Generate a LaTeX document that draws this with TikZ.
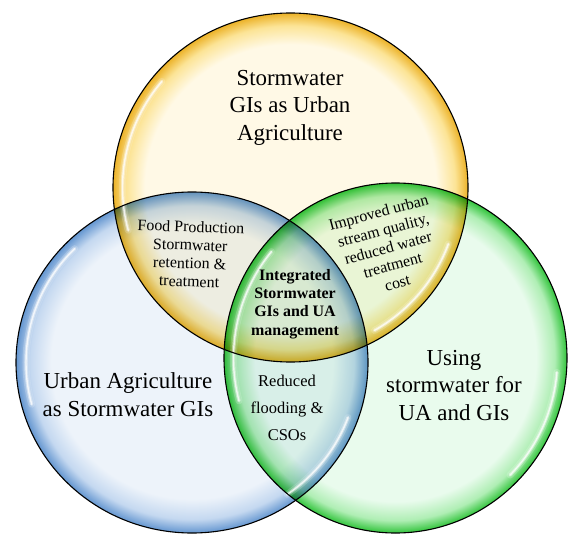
\documentclass[tikz,border=0pt]{standalone}
\usepackage{fontspec}
\setmainfont{Liberation Serif}
\usetikzlibrary{calc}
\definecolor{ypale}{RGB}{255,249,230}
\definecolor{ymid}{RGB}{252,228,150}
\definecolor{yrim}{RGB}{236,178,40}
\definecolor{bpale}{RGB}{237,243,250}
\definecolor{bmid}{RGB}{196,216,240}
\definecolor{brim}{RGB}{100,150,208}
\definecolor{gpale}{RGB}{233,251,237}
\definecolor{gmid}{RGB}{175,238,180}
\definecolor{grim}{RGB}{50,196,60}
\pgfdeclareradialshading{yball}{\pgfpoint{0bp}{0bp}}{color(0bp)=(ypale); color(20.5bp)=(ypale); color(23.2bp)=(ymid); color(25bp)=(yrim); color(50bp)=(yrim)}
\pgfdeclareradialshading{bball}{\pgfpoint{0bp}{0bp}}{color(0bp)=(bpale); color(20bp)=(bpale); color(23bp)=(bmid); color(25bp)=(brim); color(50bp)=(brim)}
\pgfdeclareradialshading{gball}{\pgfpoint{0bp}{0bp}}{color(0bp)=(gpale); color(20.5bp)=(gpale); color(23.2bp)=(gmid); color(25bp)=(grim); color(50bp)=(grim)}
\newcommand\glint[5]{%
  \draw[white, line width=7bp, opacity=0.18, line cap=round] ([shift={(#4:#2 and #3)}]#1) arc[start angle=#4, end angle=#5, x radius=#2, y radius=#3];
  \draw[white, line width=3.5bp, opacity=0.4, line cap=round] ([shift={(#4:#2 and #3)}]#1) arc[start angle=#4, end angle=#5, x radius=#2, y radius=#3];
  \draw[white, line width=1.4bp, opacity=0.75, line cap=round] ([shift={(#4:#2 and #3)}]#1) arc[start angle=#4, end angle=#5, x radius=#2, y radius=#3];}
\tikzset{
  biglabel/.style={align=center, inner sep=0pt, font=\fontsize{23}{27.5}\selectfont},
  smalllabel/.style={align=center, inner sep=0pt, font=\fontsize{16}{18.3}\selectfont},
  rim/.style={draw=black, line width=1.1bp}
}
\begin{document}
\begin{tikzpicture}[x=1bp,y=-1bp]
\useasboundingbox (0,0) rectangle (568,536);
\coordinate (cy) at (290.5,187.5);
\coordinate (cb) at (192,362.5);
\coordinate (cg) at (395.5,358);
% fills
\shade[shading=yball, blend mode=multiply] (cy) ellipse [x radius=177.5bp, y radius=174.5bp];
\shade[shading=bball, blend mode=multiply] (cb) ellipse [x radius=176bp, y radius=170.5bp];
\shade[shading=gball, blend mode=multiply] (cg) ellipse [x radius=171.5bp, y radius=175bp];
% glossy highlights
\glint{cy}{168bp}{165bp}{140}{195}
\glint{cy}{168bp}{165bp}{-60}{-20}
\glint{cb}{166bp}{161bp}{135}{195}
\glint{cb}{166bp}{161bp}{-55}{-20}
\glint{cg}{162bp}{165.5bp}{140}{195}
\glint{cg}{162bp}{165.5bp}{-45}{-5}
% outlines
\draw[rim] (cy) ellipse [x radius=177.5bp, y radius=174.5bp];
\draw[rim] (cb) ellipse [x radius=176bp, y radius=170.5bp];
\draw[rim] (cg) ellipse [x radius=171.5bp, y radius=175bp];
% labels
\node[biglabel] (top) at (290,107.5) {Stormwater\\GIs as Urban\\Agriculture};
\node[biglabel] (left) at (128,394.5) {Urban Agriculture\\as Stormwater GIs};
\node[biglabel] (right) at (454,385.5) {Using\\stormwater for\\UA and GIs};
\node[smalllabel, font=\fontsize{16.5}{27}\selectfont] (bottom) at (287,408) {Reduced\\flooding \&\\CSOs};
\node[smalllabel, rotate=-2] (yb) at (190,254) {Food Production\\Stormwater\\retention \&\\treatment};
\node[smalllabel, rotate=15] (yg) at (388,247.5) {Improved urban\\stream quality,\\reduced water\\treatment\\cost};
\node[smalllabel, font=\fontsize{16}{18.5}\selectfont\bfseries] (mid) at (295,304) {Integrated\\Stormwater\\GIs and UA\\management};
\end{tikzpicture}
\end{document}
